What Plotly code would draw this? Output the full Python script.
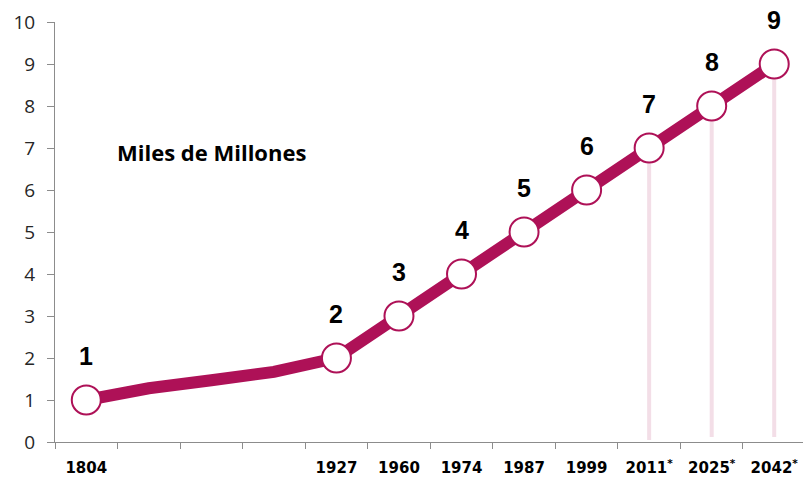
import plotly.graph_objects as go

# Data
tick_labels = ["1804", "", "", "", "1927", "1960", "1974", "1987", "1999", "2011*", "2025*", "2042*"]
population = [1.0, 1.28, 1.47, 1.67, 2.0, 3.0, 4.0, 5.0, 6.0, 7.0, 8.0, 9.0]
milestones = ["1", "", "", "", "2", "3", "4", "5", "6", "7", "8", "9"]
projected = [False] * 9 + [True] * 3

x_idx = list(range(len(tick_labels)))
line_color = "#AE1157"
drop_color = "#F3DEE7"

fig = go.Figure()

# drop lines for projected points
for i, (v, p) in enumerate(zip(population, projected)):
    if p:
        fig.add_trace(go.Scatter(x=[x_idx[i], x_idx[i]], y=[0.05 if i == 9 else 0.12, v],
                                 mode="lines", line=dict(color=drop_color, width=4),
                                 hoverinfo="skip", showlegend=False))

fig.add_trace(go.Scatter(x=x_idx, y=population, mode="lines",
                         line=dict(color=line_color, width=12),
                         showlegend=False))

mx = [x_idx[i] for i in range(len(x_idx)) if milestones[i]]
my = [population[i] for i in range(len(x_idx)) if milestones[i]]
fig.add_trace(go.Scatter(x=mx, y=my, mode="markers",
                         marker=dict(size=29, color="white", line=dict(color=line_color, width=2)),
                         showlegend=False))

for i in range(len(x_idx)):
    if milestones[i]:
        fig.add_annotation(x=x_idx[i], y=population[i], text=milestones[i], showarrow=False,
                           yshift=44, font=dict(family="Liberation Sans", size=25, color="black", weight="bold"))

fig.add_annotation(x=2.0, y=6.9, text="Miles de Millones", showarrow=False,
                   font=dict(family="Open Sans", size=22, color="black", weight="bold"))

tv = [i for i, t in zip(x_idx, tick_labels) if t]
ticktext = [t.replace("*", "<sup>*</sup>") for t in tick_labels if t]

fig.update_layout(
    width=803, height=480,
    margin=dict(l=55, r=0, t=22, b=38),
    plot_bgcolor="white", paper_bgcolor="white",
    xaxis=dict(range=[-0.5, 11.46], tickvals=tv, ticktext=ticktext, ticks="",
               automargin=False,
               showgrid=False, zeroline=False, showline=True, linecolor="#8C8C8C", linewidth=1,
               tickfont=dict(family="DejaVu Sans", size=15, color="black", weight="bold"),
               ticklabelstandoff=12,
               minor=dict(tickvals=[i - 0.5 for i in range(12)], ticks="outside", ticklen=6,
                          tickcolor="#8C8C8C", showgrid=False)),
    yaxis=dict(range=[0, 10], tickvals=list(range(11)), ticks="outside", ticklen=7,
               automargin=False,
               tickcolor="#8C8C8C", showgrid=False, zeroline=False, showline=True,
               linecolor="#8C8C8C", linewidth=1,
               tickfont=dict(family="Open Sans", size=19, color="#262626"),
               ticklabelstandoff=8),
)

fig.write_html("out.html", config={"displayModeBar": False},
               post_script="document.body.style.margin='0';document.body.style.overflow='hidden';")
